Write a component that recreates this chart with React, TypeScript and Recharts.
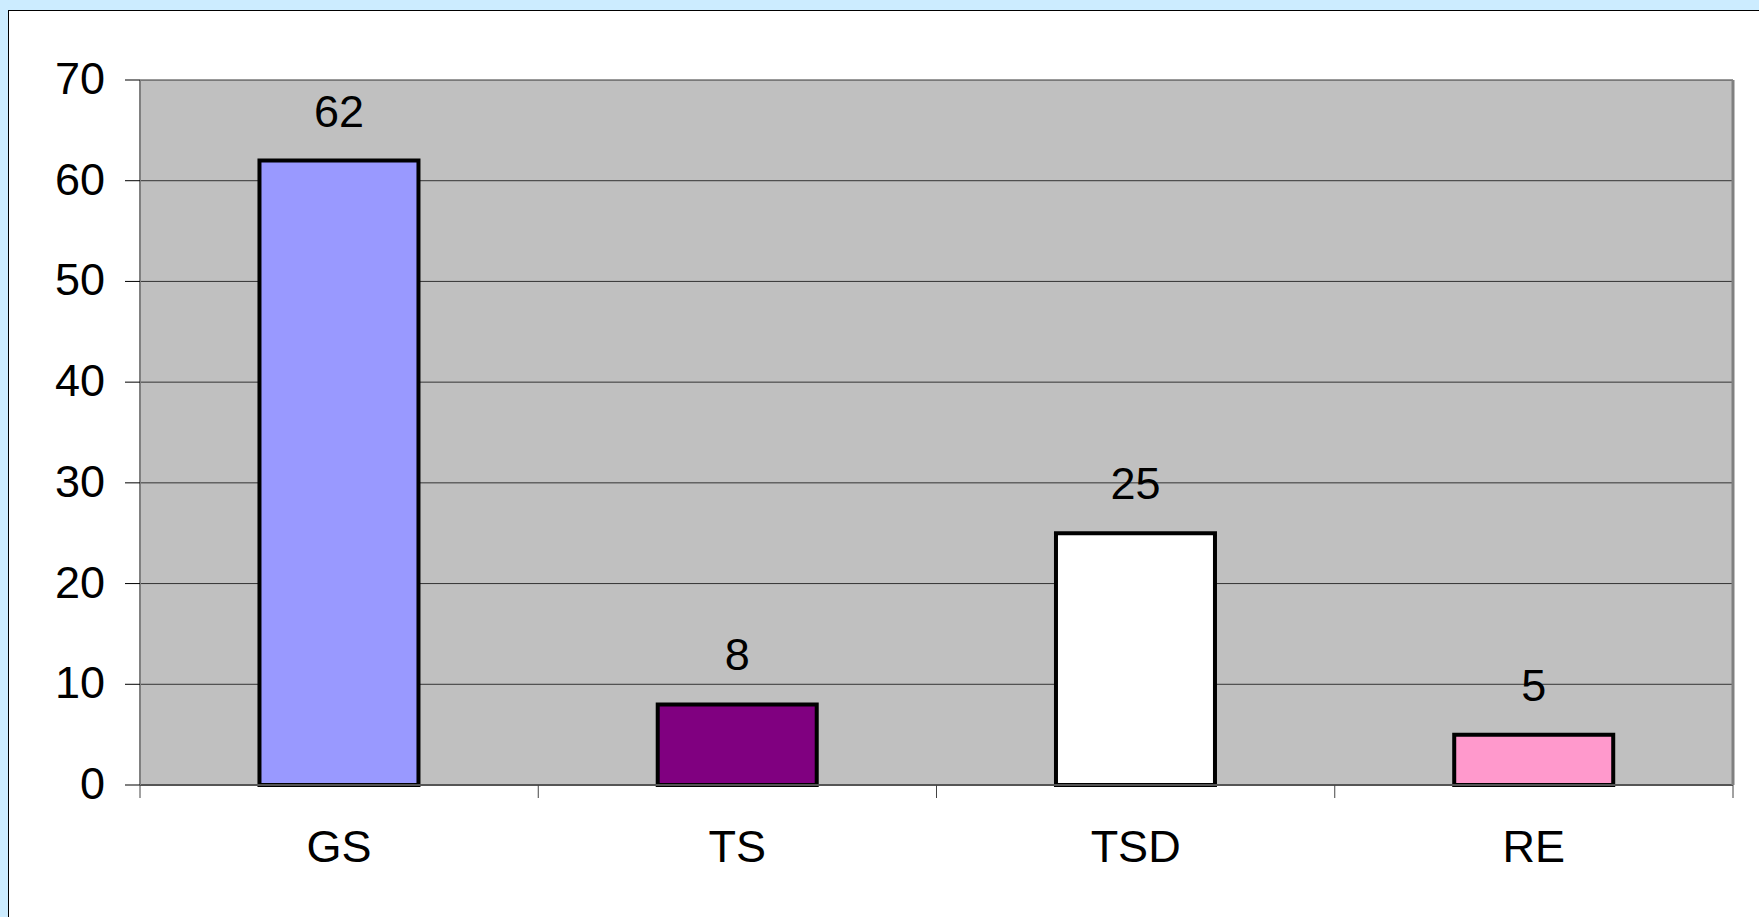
import { BarChart, Bar, XAxis, YAxis, CartesianGrid, Cell, LabelList, Text } from "recharts";

const categories = ["GS", "TS", "TSD", "RE"];
const values = [62, 8, 25, 5];
const barColors = ["#9999FF", "#800080", "#FFFFFF", "#FF99CC"];
const yTicks = [0, 10, 20, 30, 40, 50, 60, 70];

const font = "'Liberation Sans', Arial, sans-serif";
const labelSize = 45;
const dividerLen = 13;
const labelGap = 45; // tickSize + tickMargin of the category axis

// category label plus the Excel-style tick marks between categories
const CategoryTick = (props: any) => {
  const { x, y, payload, visibleTicksCount } = props;
  const half = payload?.offset ?? 0;
  const axisY = y - labelGap;
  const last = payload?.index === visibleTicksCount - 1;
  return (
    <g>
      <line x1={x - half} x2={x - half} y1={axisY} y2={axisY + dividerLen} stroke="#444" />
      {last && <line x1={x + half} x2={x + half} y1={axisY} y2={axisY + dividerLen} stroke="#444" />}
      <Text x={x} y={y} textAnchor="middle" verticalAnchor="start" fontSize={labelSize} fill="#000" fontFamily={font}>
        {payload.value}
      </Text>
    </g>
  );
};

const App = () => {
  const data = categories.map((name, i) => ({ name, value: values[i] }));

  return (
    <div style={{ position: "fixed", inset: 0, background: "#CCECFF", overflow: "hidden" }}>
      <div
        style={{
          position: "absolute",
          left: 8,
          top: 10,
          width: 1800,
          height: 1000,
          background: "#fff",
          borderLeft: "1px solid #000",
          borderTop: "1px solid #000",
        }}
      />
      <div style={{ position: "absolute", left: 0, top: 0 }}>
        <BarChart
          width={1759}
          height={917}
          data={data}
          margin={{ top: 80, right: 0, bottom: 32, left: 0 }}
          barCategoryGap="30%"
          style={{ fontFamily: font }}
        >
          <CartesianGrid vertical={false} fill="#C0C0C0" stroke="#333" strokeOpacity={1} />
          <XAxis
            dataKey="name"
            height={100}
            tickLine={false}
            tickSize={13}
            tickMargin={32}
            axisLine={{ stroke: "#555", strokeWidth: 2 }}
            tick={<CategoryTick />}
            interval={0}
          />
          <XAxis
            xAxisId="top"
            dataKey="name"
            orientation="top"
            height={0}
            tick={false}
            tickLine={false}
            axisLine={{ stroke: "#808080", strokeWidth: 3 }}
          />
          <YAxis
            domain={[0, 70]}
            ticks={yTicks}
            width={140}
            tickSize={15}
            tickMargin={20}
            tickLine={{ stroke: "#000" }}
            axisLine={{ stroke: "#808080", strokeWidth: 2 }}
            tick={{ fontSize: labelSize, fill: "#000", fontFamily: font, dy: -2 }}
            interval={0}
          />
          <YAxis
            yAxisId="right"
            orientation="right"
            domain={[0, 70]}
            width={26}
            tick={false}
            tickLine={false}
            axisLine={{ stroke: "#808080", strokeWidth: 3 }}
          />
          <Bar dataKey="value" stroke="#000" strokeWidth={4} isAnimationActive={false}>
            {data.map((d, i) => (
              <Cell key={d.name} fill={barColors[i]} />
            ))}
            <LabelList
              dataKey="value"
              position="top"
              offset={34}
              fill="#000"
              fontSize={labelSize}
              fontFamily={font}
            />
          </Bar>
        </BarChart>
      </div>
    </div>
  );
};

export default App;
